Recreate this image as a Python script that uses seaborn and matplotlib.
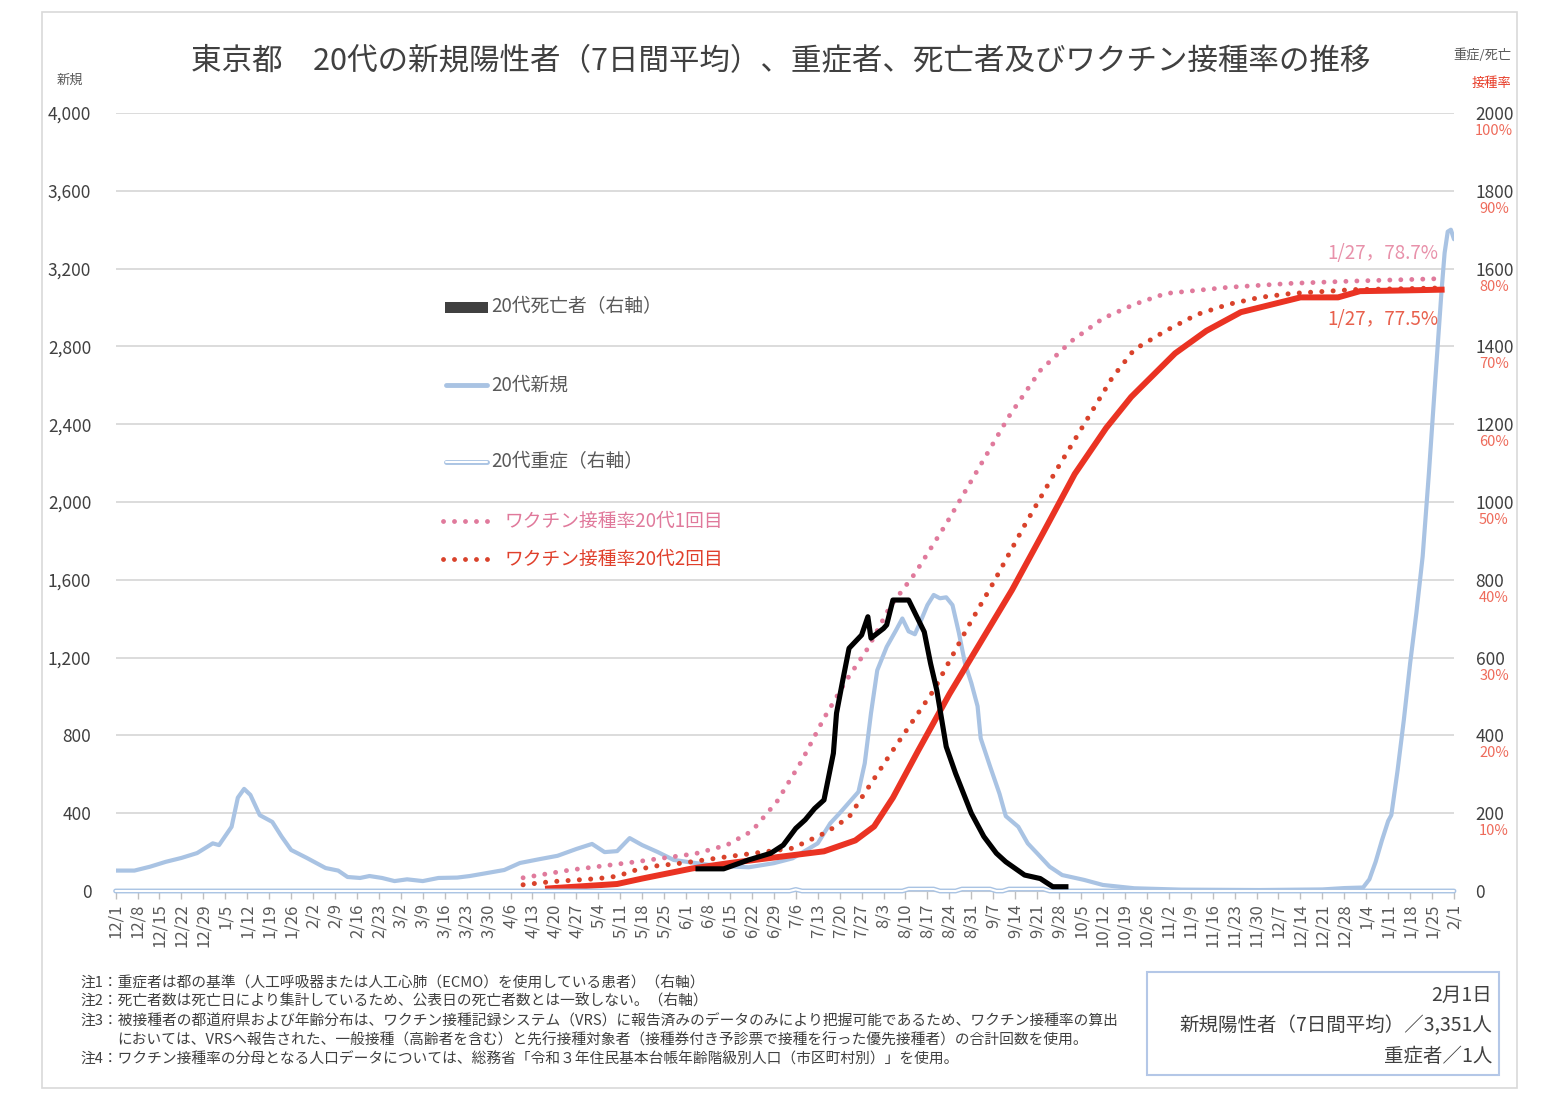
import numpy as np
import pandas as pd
import matplotlib
matplotlib.use("Agg")
import matplotlib.pyplot as plt
import matplotlib.transforms as mtransforms
from matplotlib.lines import Line2D
from matplotlib.patches import Rectangle
import seaborn as sns

sns.set_theme(style="white")
plt.rcParams['font.family'] = ['Noto Sans CJK JP', 'DejaVu Sans']

# ---------------- data ----------------
# 20代新規 (7-day average, left axis)
new_dates = ["2020-12-01", "2020-12-07", "2020-12-12", "2020-12-17", "2020-12-22", "2020-12-27",
             "2021-01-01", "2021-01-03", "2021-01-07", "2021-01-09", "2021-01-11", "2021-01-13",
             "2021-01-16", "2021-01-20", "2021-01-23", "2021-01-26", "2021-01-31", "2021-02-06",
             "2021-02-10", "2021-02-13", "2021-02-17", "2021-02-20", "2021-02-24", "2021-02-28",
             "2021-03-04", "2021-03-09", "2021-03-14", "2021-03-20", "2021-03-24", "2021-03-29",
             "2021-04-04", "2021-04-09", "2021-04-15", "2021-04-21", "2021-04-27", "2021-05-02",
             "2021-05-06", "2021-05-10", "2021-05-14", "2021-05-18", "2021-05-23", "2021-05-28",
             "2021-06-03", "2021-06-11", "2021-06-21", "2021-06-29", "2021-07-05", "2021-07-13",
             "2021-07-17", "2021-07-20", "2021-07-23", "2021-07-26", "2021-07-28", "2021-07-30",
             "2021-08-01", "2021-08-04", "2021-08-07", "2021-08-09", "2021-08-11", "2021-08-13",
             "2021-08-15", "2021-08-17", "2021-08-19", "2021-08-21", "2021-08-23", "2021-08-25",
             "2021-08-27", "2021-08-29", "2021-08-31", "2021-09-02", "2021-09-03", "2021-09-06",
             "2021-09-09", "2021-09-11", "2021-09-15", "2021-09-18", "2021-09-21", "2021-09-25",
             "2021-09-29", "2021-10-06", "2021-10-12", "2021-10-22", "2021-11-06", "2021-12-01",
             "2021-12-21", "2021-12-28", "2022-01-03", "2022-01-05", "2022-01-07", "2022-01-09",
             "2022-01-11", "2022-01-12", "2022-01-14", "2022-01-16", "2022-01-18", "2022-01-20",
             "2022-01-22", "2022-01-24", "2022-01-26", "2022-01-28", "2022-01-29", "2022-01-30",
             "2022-01-31", "2022-02-01"]
new_vals = [105, 105, 125, 150, 170, 195,
            245, 236, 330, 480, 525, 494,
            390, 355, 279, 211, 170, 118,
            105, 72, 67, 77, 67, 51,
            60, 51, 67, 69, 77, 91,
            108, 144, 163, 181, 216, 242,
            200, 205, 272, 236, 200, 160,
            146, 129, 122, 143, 168, 245,
            348, 400, 455, 510, 656, 914,
            1135, 1255, 1341, 1401, 1335, 1320,
            1393, 1470, 1522, 1505, 1510, 1470,
            1330, 1170, 1070, 950, 785, 640,
            500, 385, 330, 245, 194, 125,
            82, 57, 31, 14, 7, 5,
            8, 15, 18, 60, 150, 260,
            360, 390, 620, 880, 1170, 1430,
            1720, 2150, 2620, 3080, 3280, 3390,
            3400, 3351]

# 20代死亡者 (right axis)
death_dates = ["2021-06-04", "2021-06-13", "2021-06-21", "2021-06-28", "2021-07-02", "2021-07-06",
               "2021-07-09", "2021-07-12", "2021-07-15", "2021-07-18", "2021-07-19", "2021-07-21",
               "2021-07-23", "2021-07-27", "2021-07-29", "2021-07-30", "2021-08-03", "2021-08-04",
               "2021-08-06", "2021-08-11", "2021-08-16", "2021-08-18", "2021-08-20", "2021-08-23",
               "2021-08-26", "2021-08-31", "2021-09-04", "2021-09-08", "2021-09-11", "2021-09-17",
               "2021-09-22", "2021-09-26", "2021-10-01"]
death_vals = [57, 57, 80, 97, 118, 161,
              183, 212, 234, 354, 457, 542,
              624, 658, 705, 650, 675, 684,
              748, 748, 666, 585, 516, 371,
              302, 200, 140, 97, 75, 41,
              32, 11, 11]

# 20代重症 (right axis)
severe_dates = ["2020-12-01", "2021-07-04", "2021-07-06", "2021-07-08", "2021-08-09", "2021-08-11",
                "2021-08-19", "2021-08-21", "2021-08-26", "2021-08-28", "2021-09-06", "2021-09-08",
                "2021-09-10", "2021-09-12", "2021-09-23", "2021-09-25", "2022-02-01"]
severe_vals = [0, 0, 4, 0, 0, 5, 5, 0, 0, 5, 5, 0, 0, 5, 5, 0, 0]

# ワクチン接種率 20代1回目 (%)
dose1_dates = ["2021-04-10", "2021-04-25", "2021-05-15", "2021-06-04", "2021-06-14", "2021-06-22",
               "2021-06-30", "2021-07-08", "2021-07-15", "2021-07-22", "2021-07-29", "2021-08-05",
               "2021-08-13", "2021-08-23", "2021-09-02", "2021-09-12", "2021-09-22", "2021-10-02",
               "2021-10-12", "2021-10-22", "2021-11-01", "2021-11-21", "2021-12-11", "2021-12-31",
               "2022-01-27"]
dose1_vals = [1.7, 2.7, 3.7, 4.8, 5.9, 7.7,
              11.5, 16.8, 22.2, 27.0, 31.2, 36.5,
              40.8, 47.2, 54.1, 61.0, 66.9, 70.7,
              73.6, 75.4, 76.8, 77.6, 78.1, 78.4,
              78.7]

# ワクチン接種率 20代2回目 (%)
dose2_dates = ["2021-04-10", "2021-04-19", "2021-05-04", "2021-05-10", "2021-05-16", "2021-05-22",
               "2021-05-31", "2021-06-14", "2021-07-05", "2021-07-16", "2021-07-23", "2021-07-28",
               "2021-08-06", "2021-08-19", "2021-08-30", "2021-09-07", "2021-09-17", "2021-09-27",
               "2021-10-06", "2021-10-15", "2021-10-22", "2021-11-01", "2021-11-11", "2021-11-21",
               "2021-12-01", "2021-12-11", "2021-12-31", "2022-01-27"]
dose2_vals = [0.8, 1.2, 1.6, 1.9, 2.7, 3.2,
              3.6, 4.4, 5.5, 7.6, 9.5, 12.6,
              18.1, 25.8, 34.0, 39.6, 47.0, 54.0,
              60.0, 66.0, 69.6, 72.0, 74.1, 75.4,
              76.3, 76.8, 77.3, 77.5]

# solid red vaccination line (%)
solid_dates = ["2021-04-17", "2021-05-10", "2021-05-18", "2021-06-03", "2021-06-15", "2021-07-15",
               "2021-07-25", "2021-07-31", "2021-08-06", "2021-08-14", "2021-08-24", "2021-09-03",
               "2021-09-13", "2021-09-23", "2021-10-03", "2021-10-13", "2021-10-21", "2021-11-04",
               "2021-11-14", "2021-11-25", "2021-12-14", "2021-12-26", "2022-01-02", "2022-01-17",
               "2022-01-29"]
solid_vals = [0.3, 0.9, 1.6, 2.9, 3.6, 5.1,
              6.5, 8.3, 12.0, 18.0, 25.3, 32.0,
              38.7, 46.1, 53.6, 59.5, 63.5, 69.1,
              72.0, 74.4, 76.3, 76.3, 77.1, 77.2,
              77.3]

left_ticks = [0, 400, 800, 1200, 1600, 2000, 2400, 2800, 3200, 3600, 4000]
right_ticks = [0, 200, 400, 600, 800, 1000, 1200, 1400, 1600, 1800, 2000]
pct_ticks = [10, 20, 30, 40, 50, 60, 70, 80, 90, 100]

title = "東京都　20代の新規陽性者（7日間平均）、重症者、死亡者及びワクチン接種率の推移"
legend_labels = ["20代死亡者（右軸）", "20代新規", "20代重症（右軸）",
                 "ワクチン接種率20代1回目", "ワクチン接種率20代2回目"]
notes = ["注1：重症者は都の基準（人工呼吸器または人工心肺（ECMO）を使用している患者）（右軸）",
         "注2：死亡者数は死亡日により集計しているため、公表日の死亡者数とは一致しない。（右軸）",
         "注3：被接種者の都道府県および年齢分布は、ワクチン接種記録システム（VRS）に報告済みのデータのみにより把握可能であるため、ワクチン接種率の算出",
         "においては、VRSへ報告された、一般接種（高齢者を含む）と先行接種対象者（接種券付き予診票で接種を行った優先接種者）の合計回数を使用。",
         "注4：ワクチン接種率の分母となる人口データについては、総務省「令和３年住民基本台帳年齢階級別人口（市区町村別）」を使用。"]
info_lines = ["2月1日", "新規陽性者（7日間平均）／3,351人", "重症者／1人"]

# ---------------- styling ----------------
BLUE = '#A9C3E3'
BLACK = '#000000'
PINK = '#E07A9C'
DRED = '#D9422B'
RED = '#EA3323'
GRID = '#D9D9D9'
TXT = '#404040'
GRAYTXT = '#595959'
PCT = '#EE6B5B'
DOTS = (0, (0.01, 2.25))

W, H = 1548, 1099
fig = plt.figure(figsize=(W / 100, H / 100), dpi=100)


def fx(x):
    return x / W


def fy(y):
    return 1 - y / H


X0, X1, Y0, Y1 = 115.6, 1454.0, 891.0, 113.0
ax = fig.add_axes([fx(X0), fy(Y0), fx(X1) - fx(X0), fy(Y1) - fy(Y0)])
ax3 = ax.twinx()   # vaccination %
ax2 = ax.twinx()   # right axis counts


def frame(d, v):
    return pd.DataFrame({"date": pd.to_datetime(d), "value": v})


# blue new cases
sns.lineplot(data=frame(new_dates, new_vals), x="date", y="value", ax=ax,
             color=BLUE, linewidth=3.0, estimator=None, sort=False)
# vaccination
sns.lineplot(data=frame(dose1_dates, dose1_vals), x="date", y="value", ax=ax3,
             color=PINK, linewidth=3.5, estimator=None, sort=False)
l_d1 = ax3.get_lines()[-1]
sns.lineplot(data=frame(dose2_dates, dose2_vals), x="date", y="value", ax=ax3,
             color=DRED, linewidth=3.6, estimator=None, sort=False)
l_d2 = ax3.get_lines()[-1]
for ln in (l_d1, l_d2):
    ln.set_linestyle(DOTS)
    ln.set_dash_capstyle('round')
sns.lineplot(data=frame(solid_dates, solid_vals), x="date", y="value", ax=ax3,
             color=RED, linewidth=4.3, estimator=None, sort=False)
ax3.get_lines()[-1].set_solid_capstyle('butt')
# severe (hollow) and deaths on right axis
sns.lineplot(data=frame(severe_dates, severe_vals), x="date", y="value", ax=ax2,
             color=BLUE, linewidth=3.5, estimator=None, sort=False)
ax2.get_lines()[-1].set_clip_on(False)
sns.lineplot(data=frame(severe_dates, severe_vals), x="date", y="value", ax=ax2,
             color='white', linewidth=1.5, estimator=None, sort=False)
ax2.get_lines()[-1].set_clip_on(False)
sns.lineplot(data=frame(death_dates, death_vals), x="date", y="value", ax=ax2,
             color=BLACK, linewidth=3.7, estimator=None, sort=False)
ax2.get_lines()[-1].set_solid_capstyle('butt')

for a in (ax, ax2, ax3):
    a.set_xlabel("")
    a.set_ylabel("")
    for s in a.spines.values():
        s.set_visible(False)

start, end = pd.Timestamp("2020-12-01"), pd.Timestamp("2022-02-01")
ax.set_xlim(start, end)
tick_dates = pd.date_range(start, end, freq="7D")
ax.set_xticks(tick_dates)
ax.set_xticklabels([f"{d.month}/{d.day}" for d in tick_dates], rotation=90)
ax.tick_params(axis='x', length=6, width=1, color='#BFBFBF', pad=3,
               labelsize=12, labelcolor=GRAYTXT, bottom=True)
ax.spines['bottom'].set_visible(True)
ax.spines['bottom'].set_color('#D0D0D0')
ax.spines['bottom'].set_linewidth(1.5)

ax.set_ylim(0, 4000)
ax.set_yticks(left_ticks)
ax.set_yticklabels([f"{v:,}" for v in left_ticks])
ax.tick_params(axis='y', length=0, pad=17.5, labelsize=12.5, labelcolor=TXT)
ax.yaxis.grid(True, color=GRID, linewidth=1.3)
ax.xaxis.grid(False)

ax2.set_ylim(0, 2000)
ax2.set_yticks(right_ticks)
ax2.set_yticklabels([str(v) for v in right_ticks])
ax2.tick_params(axis='y', length=0, pad=15.5, labelsize=12.5, labelcolor=TXT)
ax2.grid(False)

ax3.set_ylim(0, 100)
ax3.set_yticks([])
ax3.grid(False)

trans_pct = mtransforms.blended_transform_factory(ax.transAxes, ax3.transData) + \
    mtransforms.ScaledTranslation(40 / 100, -18 / 100, fig.dpi_scale_trans)
for p in pct_ticks:
    ax3.text(1.0, p, f"{p}%", transform=trans_pct, ha='center', va='center',
             fontsize=10.5, color=PCT, clip_on=False)

# end labels
ax3.text(pd.Timestamp("2022-01-27"), 82.0, "1/27，78.7%", ha='right', va='center',
         fontsize=13.5, color='#E891AA')
ax3.text(pd.Timestamp("2022-01-27"), 73.4, "1/27，77.5%", ha='right', va='center',
         fontsize=13.5, color='#E8604C')

# ---------------- texts around ----------------
fig.add_artist(Rectangle((fx(42), fy(1088)), fx(1517) - fx(42), fy(12) - fy(1088),
                         transform=fig.transFigure, fill=False, edgecolor='#D9D9D9', linewidth=1.2))
fig.text(fx(781), fy(62), title, ha='center', va='center', fontsize=22, color=TXT)
fig.text(fx(70), fy(80), "新規", ha='center', va='center', fontsize=9.5, color=GRAYTXT)
fig.text(fx(1482), fy(55), "重症/死亡", ha='center', va='center', fontsize=9.5, color=GRAYTXT)
fig.text(fx(1491), fy(83), "接種率", ha='center', va='center', fontsize=9.5, color='#E8402C')

# legend (manual)
fig.add_artist(Rectangle((fx(445), fy(313)), fx(488) - fx(445), fy(302) - fy(313),
                         transform=fig.transFigure, facecolor='#404040', edgecolor='none'))
fig.add_artist(Line2D([fx(446), fx(487)], [fy(385), fy(385)], transform=fig.transFigure,
                      color=BLUE, linewidth=3.5, solid_capstyle='round'))
fig.add_artist(Line2D([fx(446), fx(487)], [fy(462), fy(462)], transform=fig.transFigure,
                      color=BLUE, linewidth=3.5, solid_capstyle='round'))
fig.add_artist(Line2D([fx(446), fx(487)], [fy(462), fy(462)], transform=fig.transFigure,
                      color='white', linewidth=1.5))
fig.add_artist(Line2D([fx(443), fx(491)], [fy(521), fy(521)], transform=fig.transFigure,
                      color=PINK, linewidth=3.5, linestyle=DOTS, dash_capstyle='round'))
fig.add_artist(Line2D([fx(443), fx(491)], [fy(559), fy(559)], transform=fig.transFigure,
                      color=DRED, linewidth=3.5, linestyle=DOTS, dash_capstyle='round'))
leg_pos = [(491, 307, GRAYTXT), (491, 385, GRAYTXT), (491, 462, GRAYTXT),
           (505, 521, '#E0799B'), (505, 559, '#E0402C')]
for (x, y, c), lab in zip(leg_pos, legend_labels):
    fig.text(fx(x), fy(y), lab, ha='left', va='center', fontsize=13.5, color=c)

# notes
note_pos = [(80, 983), (80, 1001), (80, 1021), (117, 1040), (80, 1059)]
for (x, y), t in zip(note_pos, notes):
    fig.text(fx(x), fy(y), t, ha='left', va='center', fontsize=10.6, color=TXT)

# info box
fig.add_artist(Rectangle((fx(1147), fy(1075)), fx(1499) - fx(1147), fy(972) - fy(1075),
                         transform=fig.transFigure, fill=False, edgecolor='#B4C7E7', linewidth=1.5))
for y, t in zip([995, 1026, 1057], info_lines):
    fig.text(fx(1492), fy(y), t, ha='right', va='center', fontsize=14, color=TXT)

fig.savefig("out.png", dpi=100)
